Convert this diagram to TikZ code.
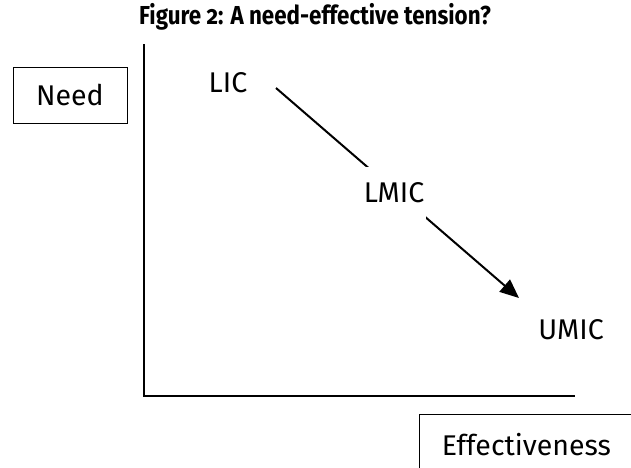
\documentclass[tikz,border=0pt]{standalone}
\usepackage{fontspec}
\setmainfont{Fira Sans}[Numbers=OldStyle]
\newfontfamily\titlefont{Fira Sans}[Numbers=OldStyle, FakeStretch=0.86]
\usetikzlibrary{arrows.meta}
\begin{document}
\begin{tikzpicture}[x=1pt, y=-1pt,
    box/.style={draw, line width=0.9pt, inner sep=0pt},
    lbl/.style={font=\fontsize{28.5}{32}\selectfont, inner sep=2pt},
    axis/.style={line width=2.2pt}]
  \useasboundingbox (0,0) rectangle (631,467);
  \clip (0,0) rectangle (631,467);

  % title
  \node[font=\titlefont\bfseries\fontsize{26}{30}\selectfont] (title) at (315,17) {Figure 2: A need-effective tension?};

  % axes
  \coordinate (origin) at (144,396);
  \coordinate (ytop) at (144,44);
  \coordinate (xend) at (575,396);
  \draw[axis] (ytop) -- (origin) -- (xend);

  % axis labels
  \node[box, lbl, minimum width=114pt, minimum height=56pt] (need) at (70,95) {Need};
  \node[box, lbl, anchor=north west, minimum width=240pt, minimum height=60pt,
        text width=195pt, align=left] (eff) at (419,414) {Effectiveness};

  % income groups
  \node[lbl] (lic) at (228,83) {LIC};
  \node[lbl] (umic) at (571,330) {UMIC};
  \coordinate (from) at (276,88);
  \coordinate (to) at (519,298);
  \draw[line width=2pt, -{Triangle[length=19pt, width=16pt]}] (from) -- (to);
  \node[lbl, fill=white, inner xsep=2pt, inner ysep=16pt] (lmic) at (394,193) {LMIC};
\end{tikzpicture}
\end{document}
